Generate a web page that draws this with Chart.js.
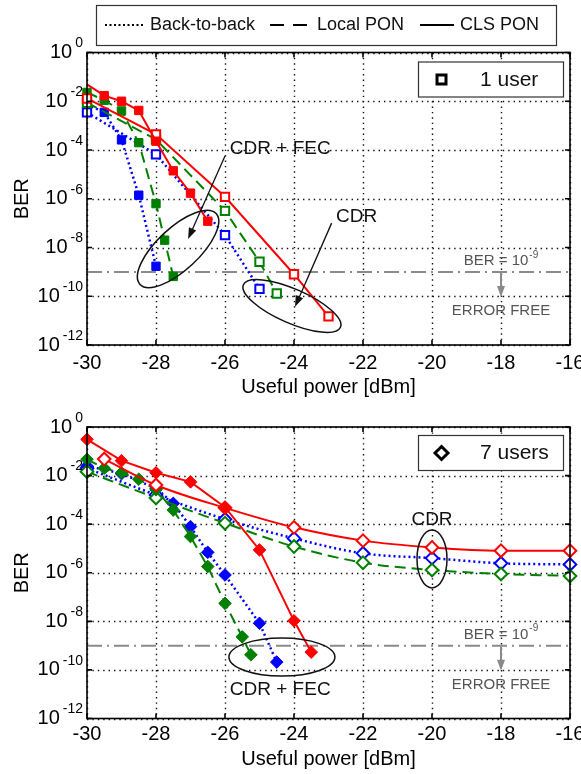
<!DOCTYPE html>
<html>
<head>
<meta charset="utf-8">
<title>BER vs useful power</title>
<script src="https://cdn.jsdelivr.net/npm/chart.js@4.4.1/dist/chart.umd.min.js"></script>
<style>
  body { margin: 0; background: #fff; }
  #page { position: relative; width: 581px; height: 774px; overflow: hidden; background: #fff; }
  canvas { position: absolute; left: 0; }
  #topChart { top: 0; }
  #bottomChart { top: 398px; }
</style>
</head>
<body>
<div id="page">
  <canvas id="topChart" width="581" height="398"></canvas>
  <canvas id="bottomChart" width="581" height="376"></canvas>
</div>
<script>
// axes
var xTicks = [-30, -28, -26, -24, -22, -20, -18, -16];
var yTickExps = [0, -2, -4, -6, -8, -10, -12];
var berLimit = 1e-9;

// 1 user (squares): filled = CDR + FEC, open = CDR
var u1ClsFecX = [-30, -29.5, -29, -28.5, -28, -27.5, -27, -26.5];
var u1ClsFecY = [4.9e-2, 1.7e-2, 1.0e-2, 4.2e-3, 2.3e-4, 1.4e-5, 1.7e-6, 1.2e-7];
var u1ClsCdrX = [-30, -28, -26, -24, -23];
var u1ClsCdrY = [1.3e-2, 4.4e-4, 1.2e-6, 8.0e-10, 1.5e-11];
var u1LocalFecX = [-30, -29.5, -29, -28.5, -28, -27.75, -27.5];
var u1LocalFecY = [2.3e-2, 1.1e-2, 4.0e-3, 2.0e-4, 6.3e-7, 2.0e-8, 6.5e-10];
var u1LocalCdrX = [-30, -28, -26, -25, -24.5];
var u1LocalCdrY = [8.7e-3, 2.7e-4, 3.2e-7, 2.6e-9, 1.3e-10];
var u1B2bFecX = [-30, -29.5, -29, -28.5, -28];
var u1B2bFecY = [7.4e-3, 3.5e-3, 2.6e-4, 1.4e-6, 1.7e-9];
var u1B2bCdrX = [-30, -28, -26, -25];
var u1B2bCdrY = [3.5e-3, 6.6e-5, 3.2e-8, 2.0e-10];

// 7 users (diamonds)
var u7ClsFecX = [-30, -29, -28, -27, -26, -25, -24, -23.5];
var u7ClsFecY = [3.1e-1, 4.1e-2, 1.3e-2, 5.5e-3, 5.0e-4, 8.7e-6, 1.05e-8, 5.4e-10];
var u7ClsCdrX = [-29.5, -28, -26, -24, -22, -20, -18, -16];
var u7ClsCdrY = [4.8e-2, 4.1e-3, 4.7e-4, 7.4e-5, 2.1e-5, 1.1e-5, 8.1e-6, 8.1e-6];
var u7LocalFecX = [-30, -29.5, -29, -28.5, -28, -27.5, -27, -26.5, -26, -25.5, -25.25];
var u7LocalFecY = [4.7e-2, 2.0e-2, 1.3e-2, 7.1e-3, 2.6e-3, 3.8e-4, 3.1e-5, 1.8e-6, 5.5e-8, 2.3e-9, 4.2e-10];
var u7LocalCdrX = [-30, -28, -26, -24, -22, -20, -18, -16];
var u7LocalCdrY = [1.45e-2, 1.2e-3, 1.1e-4, 1.2e-5, 2.6e-6, 1.3e-6, 8.9e-7, 7.4e-7];
var u7B2bFecX = [-30, -29, -28, -27.5, -27, -26.5, -26, -25, -24.5];
var u7B2bFecY = [2.5e-2, 1.2e-2, 3.0e-3, 7.2e-4, 7.9e-5, 6.9e-6, 8.1e-7, 8.3e-9, 2.1e-10];
var u7B2bCdrX = [-30, -28, -26, -24, -22, -20, -18, -16];
var u7B2bCdrY = [2.0e-2, 1.6e-3, 1.6e-4, 2.6e-5, 6.3e-6, 4.0e-6, 2.45e-6, 2.2e-6];

var FONT = '"Liberation Sans", Arial, Helvetica, sans-serif';
var RED = '#ff0000', GREEN = '#008000', BLUE = '#0000ff';

function pts(xs, ys) {
    return xs.map(function (x, i) { return { x: x, y: ys[i] }; });
}

function series(label, xs, ys, color, dash, style, filled, smooth) {
    return {
        label: label,
        data: pts(xs, ys),
        borderColor: color,
        borderWidth: dash === 'dot' ? 2.5 : 2,
        borderDash: dash === 'dot' ? [2, 3] : (dash === 'dash' ? [11, 6] : []),
        pointStyle: style,
        pointRadius: style === 'rect' ? 5.9 : 6.3,
        pointBorderWidth: filled ? 1 : 2,
        pointBorderColor: color,
        pointBackgroundColor: filled ? color : '#fff',
        pointHoverRadius: 0,
        fill: false,
        tension: 0,
        cubicInterpolationMode: smooth ? 'monotone' : 'default',
        clip: false
    };
}

function scalesFor(axisHeight, tickPad, titlePad) {
    return {
        x: {
            type: 'linear', min: -30, max: -16,
            afterBuildTicks: function (s) { s.ticks = xTicks.map(function (v) { return { value: v }; }); },
            afterFit: function (s) { s.height = axisHeight; s.paddingLeft = 0; s.paddingRight = 0; },
            grid: { display: false, drawTicks: false },
            border: { display: false },
            ticks: { color: '#000', font: { family: FONT, size: 20 }, padding: tickPad,
                     callback: function (v) { return String(v); } },
            title: { display: true, text: 'Useful power [dBm]', color: '#000',
                     font: { family: FONT, size: 20, lineHeight: 1 }, padding: { top: 0, bottom: titlePad } }
        },
        y: {
            type: 'logarithmic', min: 1e-12, max: 1,
            afterBuildTicks: function (s) { s.ticks = yTickExps.map(function (e) { return { value: Math.pow(10, e) }; }); },
            afterFit: function (s) { s.width = 87; s.paddingTop = 0; s.paddingBottom = 0; },
            grid: { display: false, drawTicks: false },
            border: { display: false },
            ticks: { display: false },
            title: { display: true, text: 'BER', color: '#000',
                     font: { family: FONT, size: 20, lineHeight: 1 }, padding: { top: 12, bottom: 0 } }
        }
    };
}

// helpers for the drawn decorations
function px(chart, x) { return chart.scales.x.getPixelForValue(x); }
function py(chart, y) { return chart.scales.y.getPixelForValue(y); }

function arrowHead(ctx, x1, y1, x2, y2, len, half) {
    var a = Math.atan2(y2 - y1, x2 - x1);
    ctx.beginPath();
    ctx.moveTo(x2, y2);
    ctx.lineTo(x2 - len * Math.cos(a) + half * Math.sin(a), y2 - len * Math.sin(a) - half * Math.cos(a));
    ctx.lineTo(x2 - len * Math.cos(a) - half * Math.sin(a), y2 - len * Math.sin(a) + half * Math.cos(a));
    ctx.closePath();
    ctx.fill();
}

function arrow(ctx, x1, y1, x2, y2, color, width) {
    ctx.save();
    ctx.strokeStyle = color; ctx.fillStyle = color; ctx.lineWidth = width;
    var a = Math.atan2(y2 - y1, x2 - x1);
    ctx.beginPath();
    ctx.moveTo(x1, y1);
    ctx.lineTo(x2 - 8 * Math.cos(a), y2 - 8 * Math.sin(a));
    ctx.stroke();
    arrowHead(ctx, x1, y1, x2, y2, 11, 4);
    ctx.restore();
}

function ellipse(ctx, cx, cy, rx, ry, rot) {
    ctx.save();
    ctx.strokeStyle = '#111'; ctx.lineWidth = 1.5;
    ctx.beginPath();
    ctx.ellipse(cx, cy, rx, ry, rot * Math.PI / 180, 0, 2 * Math.PI);
    ctx.stroke();
    ctx.restore();
}

function text(ctx, str, x, y, size, align, color) {
    ctx.save();
    ctx.font = size + 'px ' + FONT;
    ctx.fillStyle = color || '#111';
    ctx.textAlign = align || 'left';
    ctx.textBaseline = 'middle';
    ctx.fillText(str, x, y);
    ctx.restore();
}

function powLabel(ctx, xRight, y, exp, big, small, color) {
    ctx.save();
    ctx.fillStyle = color;
    ctx.textBaseline = 'middle';
    ctx.textAlign = 'left';
    ctx.font = small + 'px ' + FONT;
    var ew = ctx.measureText(exp).width;
    ctx.font = big + 'px ' + FONT;
    var bw = ctx.measureText('10').width;
    ctx.fillText('10', xRight - ew - 3 - bw, y);
    ctx.font = small + 'px ' + FONT;
    ctx.fillText(exp, xRight - ew, y - big * 0.45);
    ctx.restore();
}

// dotted grid at the tick values, placed through the chart scales
function drawGrid(chart) {
    var ctx = chart.ctx, a = chart.chartArea;
    ctx.save();
    ctx.strokeStyle = '#111'; ctx.lineWidth = 1.4;
    ctx.setLineDash([1.4, 4]);
    ctx.beginPath();
    xTicks.forEach(function (v) {
        var x = Math.round(px(chart, v)) + 0.5;
        ctx.moveTo(x, a.top); ctx.lineTo(x, a.bottom);
    });
    yTickExps.forEach(function (e) {
        var y = Math.round(py(chart, Math.pow(10, e))) + 0.5;
        ctx.moveTo(a.left, y); ctx.lineTo(a.right, y);
    });
    ctx.stroke();
    ctx.restore();
}

function drawBerLimit(chart) {
    var ctx = chart.ctx, a = chart.chartArea;
    var y = py(chart, berLimit);
    ctx.save();
    ctx.strokeStyle = '#8a8a8a'; ctx.lineWidth = 2;
    ctx.setLineDash([15, 5, 2, 5]);
    ctx.beginPath(); ctx.moveTo(a.left, y); ctx.lineTo(a.right, y); ctx.stroke();
    ctx.restore();
}

function drawBerText(chart) {
    var ctx = chart.ctx;
    var x = px(chart, -18), y = py(chart, berLimit);
    // "BER = 10^-9"
    ctx.save();
    ctx.fillStyle = '#555';
    ctx.textBaseline = 'middle';
    ctx.font = '15px ' + FONT;
    var w1 = ctx.measureText('BER = 10').width;
    ctx.font = '10px ' + FONT;
    var w2 = ctx.measureText('-9').width;
    var x0 = x - (w1 + w2 + 1) / 2;
    ctx.textAlign = 'left';
    ctx.font = '15px ' + FONT;
    ctx.fillText('BER = 10', x0, y - 11);
    ctx.font = '10px ' + FONT;
    ctx.fillText('-9', x0 + w1 + 1, y - 17);
    ctx.restore();
    arrow(ctx, x, y + 1, x, y + 25, '#8a8a8a', 2);
    text(ctx, 'ERROR FREE', x, y + 39, 15, 'center', '#555');
}

function drawFrame(chart) {
    var ctx = chart.ctx, a = chart.chartArea;
    ctx.save();
    ctx.strokeStyle = '#000'; ctx.lineWidth = 1.6;
    ctx.strokeRect(a.left, a.top, a.right - a.left, a.bottom - a.top);
    ctx.beginPath();
    xTicks.forEach(function (v) {
        var x = px(chart, v);
        ctx.moveTo(x, a.bottom); ctx.lineTo(x, a.bottom - 5);
        ctx.moveTo(x, a.top); ctx.lineTo(x, a.top + 5);
    });
    yTickExps.forEach(function (e) {
        var y = py(chart, Math.pow(10, e));
        ctx.moveTo(a.left, y); ctx.lineTo(a.left + 5, y);
        ctx.moveTo(a.right, y); ctx.lineTo(a.right - 5, y);
    });
    ctx.stroke();
    ctx.restore();
    yTickExps.forEach(function (e) {
        powLabel(ctx, a.left - 4, py(chart, Math.pow(10, e)), String(e), 20, 14, '#000');
    });
}

function userBox(ctx, top, label, diamond) {
    ctx.save();
    ctx.fillStyle = '#fff';
    ctx.fillRect(418.5, top, 145, 35);
    ctx.strokeStyle = '#333'; ctx.lineWidth = 1.2;
    ctx.strokeRect(418.5, top, 145, 35);
    ctx.strokeStyle = '#000'; ctx.lineWidth = 3;
    var cx = 441.5, cy = top + 17.5;
    ctx.beginPath();
    if (diamond) {
        ctx.moveTo(cx, cy - 6.5); ctx.lineTo(cx + 6.5, cy); ctx.lineTo(cx, cy + 6.5); ctx.lineTo(cx - 6.5, cy);
        ctx.closePath();
    } else {
        ctx.rect(cx - 4.5, cy - 4.5, 9, 9);
    }
    ctx.stroke();
    ctx.restore();
    text(ctx, label, 480, top + 18, 21, 'left', '#111');
}

function styleLegend(ctx) {
    ctx.save();
    ctx.strokeStyle = '#333'; ctx.lineWidth = 1.2;
    ctx.strokeRect(96.5, 5.5, 460, 40);
    ctx.strokeStyle = '#000'; ctx.lineWidth = 2;
    ctx.setLineDash([2, 2.5]);
    ctx.beginPath(); ctx.moveTo(105, 25); ctx.lineTo(143, 25); ctx.stroke();
    ctx.setLineDash([14, 9]);
    ctx.beginPath(); ctx.moveTo(270, 25); ctx.lineTo(309, 25); ctx.stroke();
    ctx.setLineDash([]);
    ctx.beginPath(); ctx.moveTo(420, 25); ctx.lineTo(454, 25); ctx.stroke();
    ctx.restore();
    text(ctx, 'Back-to-back', 150, 25, 18, 'left', '#111');
    text(ctx, 'Local PON', 317, 25, 18, 'left', '#111');
    text(ctx, 'CLS PON', 460, 25, 18, 'left', '#111');
}

var topPlugin = {
    id: 'topDecor',
    beforeDatasetsDraw: function (chart) { drawGrid(chart); drawBerLimit(chart); },
    afterDatasetsDraw: function (chart) {
        var ctx = chart.ctx;
        ellipse(ctx, px(chart, -27.36), py(chart, Math.pow(10, -8.06)), 52, 21, -43);
        ellipse(ctx, px(chart, -24.06), py(chart, Math.pow(10, -10.40)), 53, 17, 23.7);
        arrow(ctx, px(chart, -26.0), py(chart, Math.pow(10, -4.25)), px(chart, -27.07), py(chart, Math.pow(10, -7.65)), '#111', 1.3);
        arrow(ctx, px(chart, -22.91), py(chart, Math.pow(10, -7.0)), px(chart, -23.97), py(chart, Math.pow(10, -10.43)), '#111', 1.3);
        text(ctx, 'CDR + FEC', px(chart, -25.86), py(chart, Math.pow(10, -3.93)), 19, 'left');
        text(ctx, 'CDR', px(chart, -22.78), py(chart, Math.pow(10, -6.75)), 19, 'left');
        drawBerText(chart);
    },
    afterDraw: function (chart) {
        drawFrame(chart);
        userBox(chart.ctx, 62, '1 user', false);
        styleLegend(chart.ctx);
    }
};

var bottomPlugin = {
    id: 'bottomDecor',
    beforeDatasetsDraw: function (chart) { drawGrid(chart); drawBerLimit(chart); },
    afterDatasetsDraw: function (chart) {
        var ctx = chart.ctx;
        ellipse(ctx, px(chart, -24.35), py(chart, Math.pow(10, -9.47)), 53, 19, 0);
        ellipse(ctx, px(chart, -20.0), py(chart, Math.pow(10, -5.43)), 15, 29, 0);
        text(ctx, 'CDR + FEC', px(chart, -24.4), py(chart, Math.pow(10, -10.83)), 19, 'center');
        text(ctx, 'CDR', px(chart, -20.0), py(chart, Math.pow(10, -3.83)), 19, 'center');
        drawBerText(chart);
    },
    afterDraw: function (chart) {
        drawFrame(chart);
        userBox(chart.ctx, 37.5, '7 users', true);
    }
};

var baseOptions = function (padTop, axisHeight, tickPad, titlePad) {
    return {
        responsive: false,
        animation: false,
        devicePixelRatio: 1,
        layout: { padding: { top: padTop, right: 11, left: 0, bottom: 0 } },
        plugins: { legend: { display: false }, tooltip: { enabled: false } },
        scales: scalesFor(axisHeight, tickPad, titlePad)
    };
};

var topChart = new Chart(document.getElementById('topChart'), {
    type: 'line',
    data: {
        datasets: [
            series('CLS PON, CDR + FEC', u1ClsFecX, u1ClsFecY, RED, 'solid', 'rect', true, false),
            series('CLS PON, CDR', u1ClsCdrX, u1ClsCdrY, RED, 'solid', 'rect', false, false),
            series('Local PON, CDR + FEC', u1LocalFecX, u1LocalFecY, GREEN, 'dash', 'rect', true, false),
            series('Local PON, CDR', u1LocalCdrX, u1LocalCdrY, GREEN, 'dash', 'rect', false, false),
            series('Back-to-back, CDR + FEC', u1B2bFecX, u1B2bFecY, BLUE, 'dot', 'rect', true, false),
            series('Back-to-back, CDR', u1B2bCdrX, u1B2bCdrY, BLUE, 'dot', 'rect', false, false)
        ]
    },
    options: baseOptions(52.5, 53, 6, 1),
    plugins: [topPlugin]
});
// first CLS point of the 1-user curve has no marker in the source
topChart.data.datasets[0].pointRadius = function (c) { return c.dataIndex === 0 ? 0 : 5.9; };
topChart.update();

var bottomChart = new Chart(document.getElementById('bottomChart'), {
    type: 'line',
    data: {
        datasets: [
            series('CLS PON, CDR + FEC', u7ClsFecX, u7ClsFecY, RED, 'solid', 'rectRot', true, false),
            series('CLS PON, CDR', u7ClsCdrX, u7ClsCdrY, RED, 'solid', 'rectRot', false, true),
            series('Local PON, CDR + FEC', u7LocalFecX, u7LocalFecY, GREEN, 'dash', 'rectRot', true, false),
            series('Local PON, CDR', u7LocalCdrX, u7LocalCdrY, GREEN, 'dash', 'rectRot', false, true),
            series('Back-to-back, CDR + FEC', u7B2bFecX, u7B2bFecY, BLUE, 'dot', 'rectRot', true, false),
            series('Back-to-back, CDR', u7B2bCdrX, u7B2bCdrY, BLUE, 'dot', 'rectRot', false, true)
        ]
    },
    options: baseOptions(29, 55.5, 4, 5),
    plugins: [bottomPlugin]
});
</script>
</body>
</html>
